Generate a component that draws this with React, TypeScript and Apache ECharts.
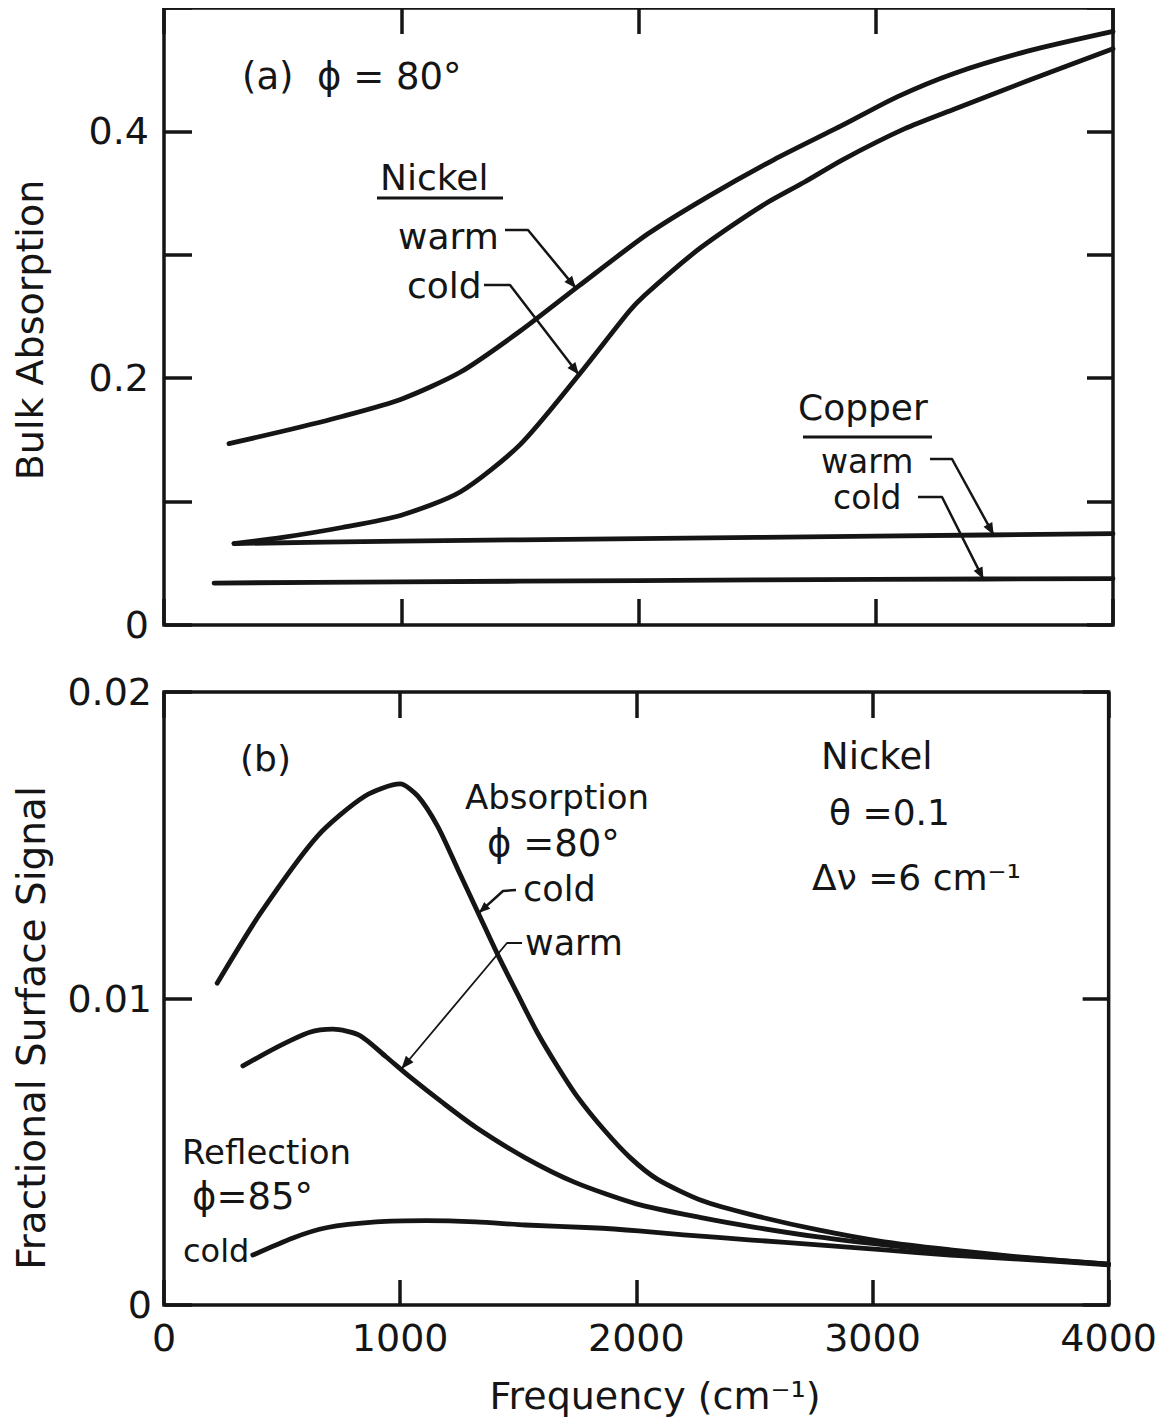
import React, { useEffect, useRef } from "react";
import * as echarts from "echarts";

const FONT = '"DejaVu Sans", sans-serif';
const INK = "#151515";

// Tick labels
const xTickLabels = ["0", "1000", "2000", "3000", "4000"];
const topYTickLabels = ["0", "", "0.2", "", "0.4", ""];
const bottomYTickLabels = ["0", "0.01", "0.02"];

// (a) Bulk absorption, phi = 80 deg  [frequency cm^-1, absorption]
const nickelWarm = [
  [274, 0.147], [500, 0.157], [750, 0.169], [1000, 0.183], [1250, 0.205],
  [1500, 0.238], [1750, 0.275], [2040, 0.317], [2300, 0.348], [2570, 0.377],
  [2860, 0.405], [3090, 0.428], [3330, 0.447], [3640, 0.465], [4000, 0.481],
];
const nickelCold = [
  [295, 0.066], [500, 0.071], [750, 0.079], [1000, 0.089], [1250, 0.108],
  [1500, 0.146], [1750, 0.203], [1960, 0.254], [2025, 0.267], [2230, 0.301],
  [2385, 0.3225], [2540, 0.342], [2700, 0.359], [2860, 0.377], [3120, 0.402],
  [3330, 0.418], [3640, 0.441], [4000, 0.467],
];
const copperWarm = [[295, 0.066], [1000, 0.068], [2000, 0.070], [3000, 0.072], [4000, 0.074]];
const copperCold = [[211, 0.034], [1000, 0.035], [2000, 0.036], [3000, 0.037], [4000, 0.0375]];

// (b) Fractional surface signal, nickel
const absorptionCold = [
  [225, 0.0105], [410, 0.0128], [650, 0.0153], [850, 0.0166], [1000, 0.0170],
  [1075, 0.0166], [1160, 0.0156], [1245, 0.0142], [1330, 0.0128], [1415, 0.0114],
  [1500, 0.0101], [1580, 0.0089], [1665, 0.0078], [1750, 0.0068], [1865, 0.0057],
  [1975, 0.0048], [2090, 0.0041], [2280, 0.0034], [2490, 0.00294], [2770, 0.00245],
  [3050, 0.00206], [3330, 0.0018], [3620, 0.00157], [4000, 0.00133],
];
const absorptionWarm = [
  [334, 0.0078], [475, 0.0084], [617, 0.0089], [715, 0.0090], [828, 0.0088],
  [940, 0.0081], [1040, 0.00745], [1180, 0.0066], [1320, 0.0058], [1530, 0.0048],
  [1740, 0.0040], [2000, 0.0033], [2280, 0.00284], [2490, 0.00255], [2770, 0.00222],
  [3050, 0.00196], [3330, 0.00174], [3620, 0.00155], [4000, 0.00133],
];
const reflectionCold = [
  [376, 0.00163], [546, 0.00219], [687, 0.00252], [898, 0.00271], [1110, 0.00275],
  [1320, 0.00271], [1530, 0.00261], [1810, 0.00252], [2010, 0.00242], [2200, 0.00229],
  [2490, 0.00212], [2770, 0.00196], [3050, 0.0018], [3330, 0.00163], [3620, 0.0015], [4000, 0.00131],
];

const OFF = 8; // body margin

const lineSeries = (name: string, data: number[][], grid: number) => ({
  name,
  type: "line",
  xAxisIndex: grid === 0 ? 0 : 2,
  yAxisIndex: grid === 0 ? 0 : 2,
  data,
  smooth: 0.25,
  showSymbol: false,
  symbol: "none",
  lineStyle: { color: INK, width: 4.8, cap: "round", join: "round" },
  z: 3,
});

const tickStyle = (len: number) => ({
  show: true,
  inside: true,
  length: len,
  lineStyle: { color: INK, width: 3.5 },
});

const noLine = { show: false, onZero: false };

function txt(text: string, x: number, y: number, size: number, rotation = 0, align = "left") {
  return {
    type: "text",
    x: x - OFF,
    y: y - OFF,
    rotation,
    z: 10,
    style: {
      text,
      font: `${size}px ${FONT}`,
      fill: INK,
      align,
      verticalAlign: "middle",
      textAlign: align,
      textVerticalAlign: "middle",
    },
  };
}

function seg(x1: number, y1: number, x2: number, y2: number, w: number) {
  return {
    type: "line",
    z: 10,
    shape: { x1: x1 - OFF, y1: y1 - OFF, x2: x2 - OFF, y2: y2 - OFF },
    style: { stroke: INK, lineWidth: w },
  };
}

export default function App() {
  const ref = useRef<HTMLDivElement>(null);
  useEffect(() => {
    const chart = echarts.init(ref.current!, null, { renderer: "svg" });
    const option: any = {
      animation: false,
      backgroundColor: "#ffffff",
      textStyle: { fontFamily: FONT, color: INK },
      grid: [
        { left: 164 - OFF, top: 8 - OFF, width: 949, height: 617, show: true, borderColor: INK, borderWidth: 3.5, backgroundColor: "transparent" },
        { left: 164 - OFF, top: 692 - OFF, width: 949, height: 613, show: true, borderColor: INK, borderWidth: 3.5, backgroundColor: "transparent" },
      ],
      xAxis: [
        { type: "value", gridIndex: 0, min: 0, max: 4000, interval: 1000, position: "bottom", axisLine: noLine, axisTick: tickStyle(26), axisLabel: { show: false }, splitLine: { show: false } },
        { type: "value", gridIndex: 0, min: 0, max: 4000, interval: 1000, position: "top", axisLine: noLine, axisTick: tickStyle(26), axisLabel: { show: false }, splitLine: { show: false } },
        {
          type: "value", gridIndex: 1, min: 0, max: 4000, interval: 1000, position: "bottom",
          axisLine: noLine, axisTick: tickStyle(25), splitLine: { show: false },
          axisLabel: { show: true, fontSize: 38, fontFamily: FONT, color: INK, margin: 14, showMinLabel: true, showMaxLabel: true, formatter: (v: number) => xTickLabels[Math.round(v / 1000)] ?? "" },
        },
        { type: "value", gridIndex: 1, min: 0, max: 4000, interval: 1000, position: "top", axisLine: noLine, axisTick: tickStyle(26), axisLabel: { show: false }, splitLine: { show: false } },
      ],
      yAxis: [
        {
          type: "value", gridIndex: 0, min: 0, max: 0.5, interval: 0.1, position: "left",
          axisLine: noLine, axisTick: tickStyle(28), splitLine: { show: false },
          axisLabel: { show: true, fontSize: 38, fontFamily: FONT, color: INK, margin: 15, showMinLabel: true, showMaxLabel: true, formatter: (v: number) => topYTickLabels[Math.round(v / 0.1)] ?? "" },
        },
        { type: "value", gridIndex: 0, min: 0, max: 0.5, interval: 0.1, position: "right", axisLine: noLine, axisTick: tickStyle(26), axisLabel: { show: false }, splitLine: { show: false } },
        {
          type: "value", gridIndex: 1, min: 0, max: 0.02, interval: 0.01, position: "left",
          axisLine: noLine, axisTick: tickStyle(28), splitLine: { show: false },
          axisLabel: { show: true, fontSize: 38, fontFamily: FONT, color: INK, margin: 12, showMinLabel: true, showMaxLabel: true, formatter: (v: number) => bottomYTickLabels[Math.round(v / 0.01)] ?? "" },
        },
        { type: "value", gridIndex: 1, min: 0, max: 0.02, interval: 0.01, position: "right", axisLine: noLine, axisTick: tickStyle(26), axisLabel: { show: false }, splitLine: { show: false } },
      ],
      series: [
        lineSeries("Nickel warm", nickelWarm, 0),
        lineSeries("Nickel cold", nickelCold, 0),
        lineSeries("Copper warm", copperWarm, 0),
        lineSeries("Copper cold", copperCold, 0),
        lineSeries("Absorption cold", absorptionCold, 1),
        lineSeries("Absorption warm", absorptionWarm, 1),
        lineSeries("Reflection cold", reflectionCold, 1),
      ],
    };
    chart.setOption(option);

    // pixel (page coords) of a data point
    const P = (grid: number, pt: number[]) => {
      const p = chart.convertToPixel({ gridIndex: grid } as any, pt) as number[];
      return [p[0] + OFF, p[1] + OFF];
    };

    const leader = (pts: number[][], w: number, head = 12, half = 5) => {
      const n = pts.length;
      const tip = pts[n - 1];
      const prev = pts[n - 2];
      const dx = tip[0] - prev[0];
      const dy = tip[1] - prev[1];
      const L = Math.hypot(dx, dy) || 1;
      const ux = dx / L, uy = dy / L;
      const bx = tip[0] - ux * head, by = tip[1] - uy * head;
      const nx = -uy, ny = ux;
      return [
        {
          type: "polyline",
          z: 10,
          shape: { points: pts.map((p) => [p[0] - OFF, p[1] - OFF]) },
          style: { stroke: INK, lineWidth: w, fill: null, lineJoin: "round" },
        },
        {
          type: "polygon",
          z: 10,
          shape: {
            points: [
              [tip[0] - OFF, tip[1] - OFF],
              [bx + nx * half - OFF, by + ny * half - OFF],
              [bx - nx * half - OFF, by - ny * half - OFF],
            ],
          },
          style: { fill: INK },
        },
      ];
    };

    const graphic: any[] = [
      // axis titles
      txt("Bulk Absorption", 30, 330, 38, Math.PI / 2, "center"),
      txt("Fractional Surface Signal", 31, 1028, 39, Math.PI / 2, "center"),
      txt("Frequency (cm⁻¹)", 655, 1396, 38, 0, "center"),
      // panel (a)
      txt("(a)  ϕ = 80°", 242, 76, 37),
      txt("Nickel", 380, 177, 36),
      seg(377, 198, 503, 198, 3),
      txt("warm", 398, 236, 36),
      txt("cold", 407, 285, 36),
      ...leader([[505, 230], [528, 230], P(0, [1736, 0.273])], 2.5),
      ...leader([[484, 285], [510, 285], P(0, [1748, 0.203])], 2.5),
      txt("Copper", 798, 407, 36),
      seg(803, 437, 932, 437, 3),
      txt("warm", 821, 461, 33),
      txt("cold", 833, 497, 33),
      ...leader([[930, 459], [952, 459], P(0, [3497, 0.073])], 2.5),
      ...leader([[918, 497], [942, 497], P(0, [3454, 0.037])], 2.5),
      // panel (b)
      txt("(b)", 240, 758, 36),
      txt("Absorption", 465, 797, 34),
      txt("ϕ =80°", 487, 843, 37),
      txt("cold", 523, 889, 35),
      ...leader([[516, 890], [503, 891], P(1, [1334, 0.0128])], 2.5, 11, 4.5),
      txt("warm", 525, 943, 35),
      ...leader([[522, 943], [507, 943], P(1, [1005, 0.0077])], 1.8, 13, 5),
      txt("Reflection", 182, 1152, 34),
      txt("ϕ=85°", 192, 1196, 37),
      txt("cold", 183, 1251, 32),
      txt("Nickel", 821, 756, 37),
      txt("θ =0.1", 829, 812, 36),
      txt("Δν =6 cm⁻¹", 812, 877, 36),
    ];
    chart.setOption({ graphic });

    return () => chart.dispose();
  }, []);
  return <div ref={ref} style={{ width: 1152, height: 1410 }} />;
}
